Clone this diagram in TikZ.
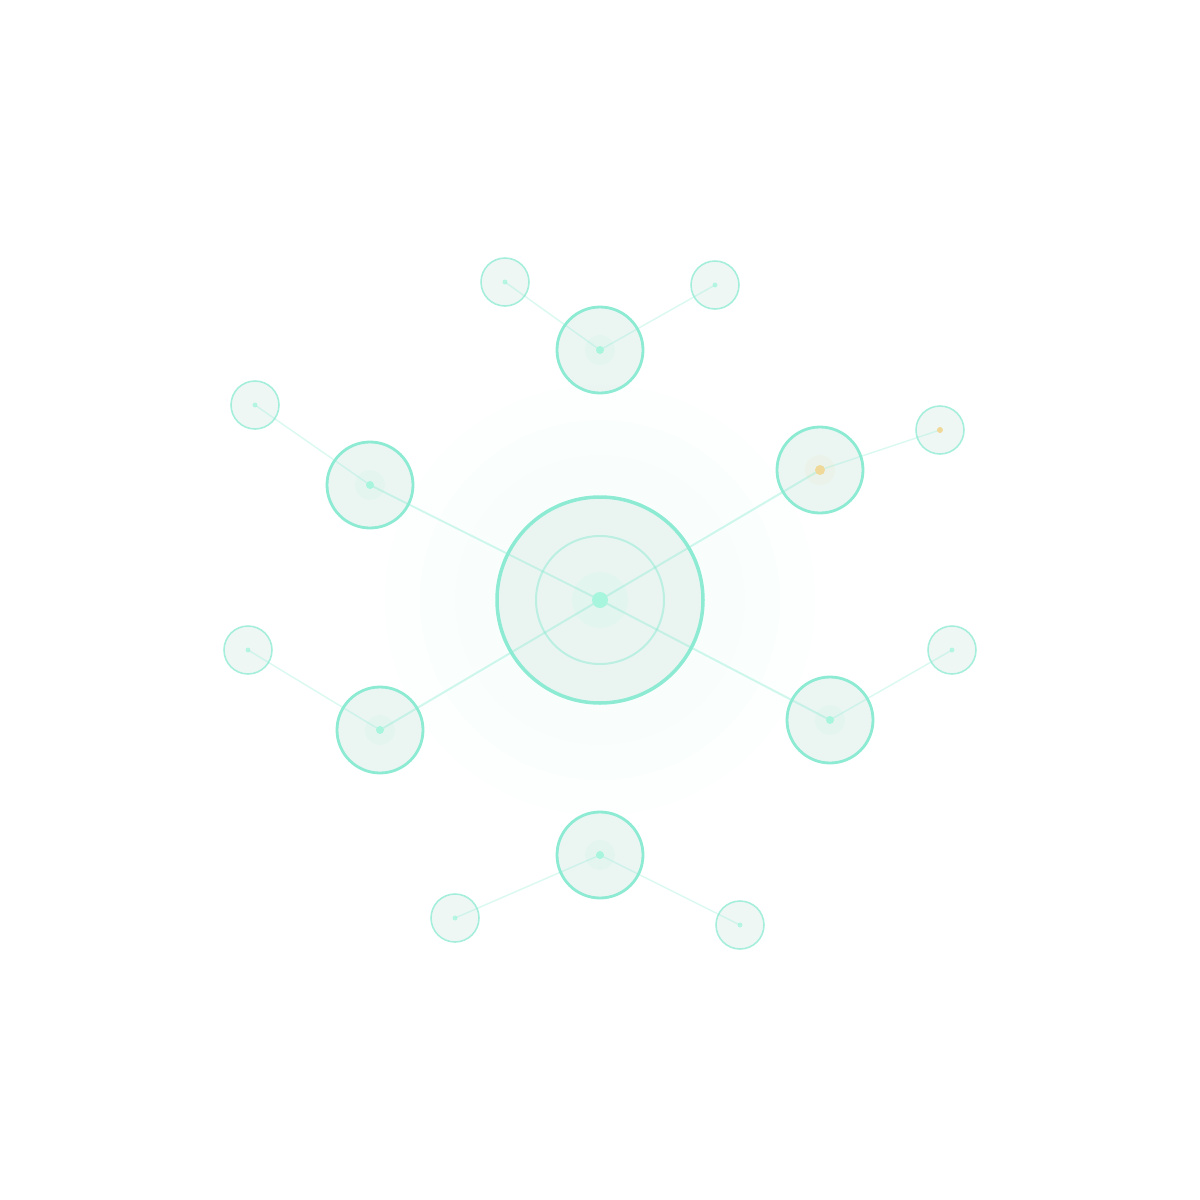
\documentclass[tikz,border=0pt]{standalone}
\usetikzlibrary{backgrounds}
\definecolor{mint}{HTML}{8CEBD2}
\definecolor{mintdot}{HTML}{A8F5DE}
\definecolor{haze}{HTML}{E8F4F1}
\definecolor{amber}{HTML}{F0D898}
\tikzset{
  hub/.style={circle,draw=mint,line width=3.5pt,fill=haze,fill opacity=0.85,minimum size=206pt,inner sep=0pt},
  hubnode/.style={circle,draw=mint,line width=2.8pt,fill=haze,fill opacity=0.85,minimum size=86pt,inner sep=0pt},
  leaf/.style={circle,draw=mint,draw opacity=0.75,line width=1.6pt,fill=haze,fill opacity=0.7,minimum size=48pt,inner sep=0pt},
  spoke/.style={draw=mint,line width=2pt,opacity=0.4},
  twig/.style={draw=mint,line width=1.5pt,opacity=0.3},
  dot/.style={circle,fill=mintdot,inner sep=0pt,minimum size=#1},
}
\begin{document}
\begin{tikzpicture}[x=1pt,y=-1pt]
  \useasboundingbox (0,0) rectangle (1200,1200);
  % faint glow round the centre
  \foreach \r/\o in {250/0.01,215/0.012,180/0.014,145/0.016}
    \fill[mint,opacity=\o] (600,600) circle (\r);

  \node[hub] (c) at (600,600) {};
  \node[hubnode] (t) at (600,350) {};
  \node[hubnode] (ul) at (370,485) {};
  \node[hubnode] (ur) at (820,470) {};
  \node[hubnode] (ll) at (380,730) {};
  \node[hubnode] (lr) at (830,720) {};
  \node[hubnode] (b) at (600,855) {};

  \node[leaf] (t1) at (505,282) {};
  \node[leaf] (t2) at (715,285) {};
  \node[leaf] (ul1) at (255,405) {};
  \node[leaf] (ur1) at (940,430) {};
  \node[leaf] (ll1) at (248,650) {};
  \node[leaf] (lr1) at (952,650) {};
  \node[leaf] (b1) at (455,918) {};
  \node[leaf] (b2) at (740,925) {};

  \draw[mint,line width=2pt,opacity=0.5] (c.center) circle (64);

  \foreach \n in {ul,ur,ll,lr}
    \draw[spoke] (c.center) -- (\n.center);
  \foreach \a/\z in {t/t1,t/t2,ul/ul1,ur/ur1,ll/ll1,lr/lr1,b/b1,b/b2}
    \draw[twig] (\a.center) -- (\z.center);

  % dots
  \fill[mintdot,opacity=0.12] (c.center) circle (28);
  \node[dot=16pt] at (c.center) {};
  \foreach \n in {t,ul,ll,lr,b} {
    \fill[mintdot,opacity=0.1] (\n.center) circle (15);
    \node[dot=8pt] at (\n.center) {};
  }
  \fill[amber,opacity=0.1] (ur.center) circle (15);
  \node[dot=10pt,fill=amber] at (ur.center) {};
  \foreach \n in {t1,t2,ul1,ll1,lr1,b1,b2}
    \node[dot=5pt,opacity=0.8] at (\n.center) {};
  \node[dot=6pt,fill=amber] at (ur1.center) {};
\end{tikzpicture}
\end{document}
